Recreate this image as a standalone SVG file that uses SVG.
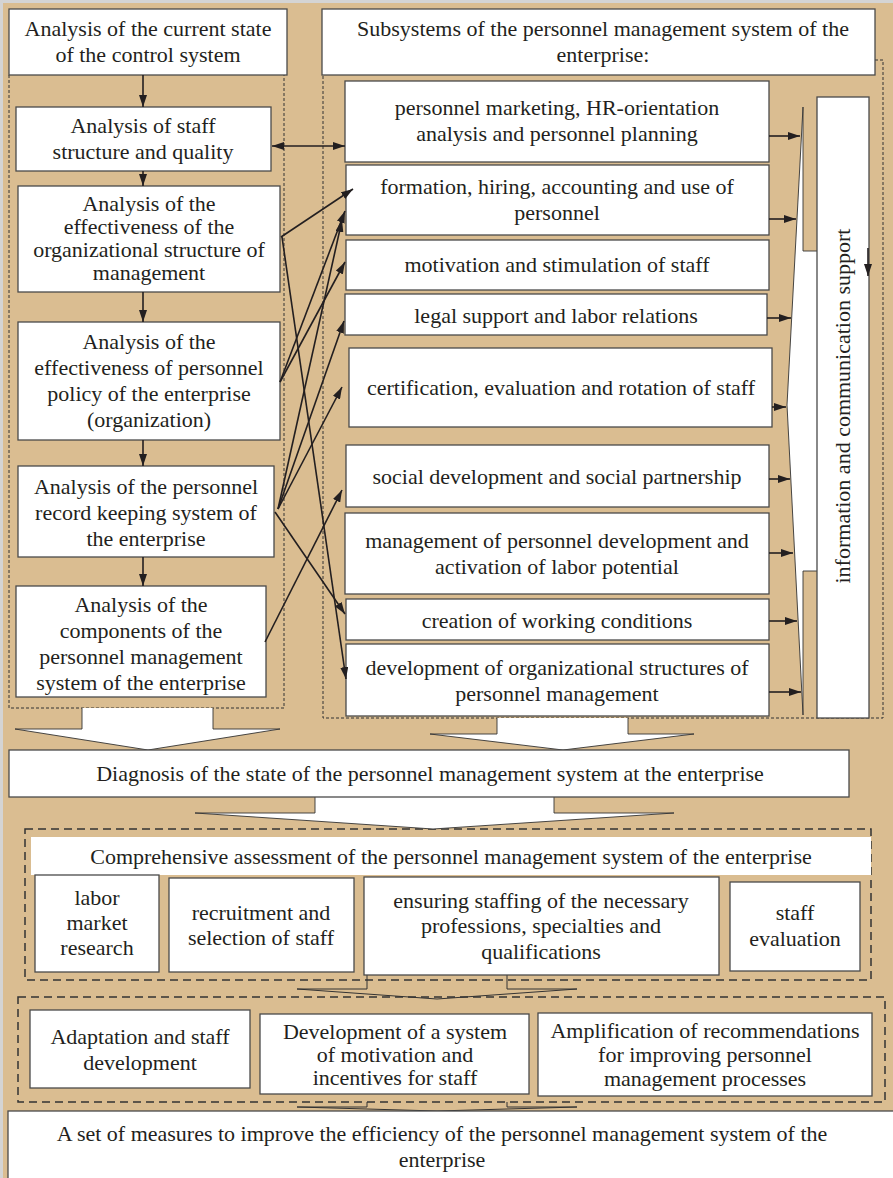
<svg xmlns="http://www.w3.org/2000/svg" width="893" height="1178" viewBox="0 0 893 1178">
<defs>
<marker id="ah" viewBox="0 0 12 8" refX="12" refY="4" markerWidth="12" markerHeight="8" markerUnits="userSpaceOnUse" orient="auto-start-reverse">
<path d="M0,0 L12,4 L0,8 Z" fill="#231f20"/>
</marker>
<style>
.bx{fill:#fff;stroke:#4a4a4a;stroke-width:1.3}
.t{font-family:"Liberation Serif","Times New Roman",serif;font-size:22px;fill:#231f20;text-anchor:middle}
.c{stroke:#231f20;stroke-width:1.6;fill:none;marker-end:url(#ah)}
.d1{fill:none;stroke:#333;stroke-width:1;stroke-dasharray:3,2}
.d2{fill:none;stroke:#333;stroke-width:1.5;stroke-dasharray:8,5}
.ba{fill:#fff;stroke:#333;stroke-width:0.9}
.sa{fill:none;stroke:#333;stroke-width:1}
</style>
</defs>
<rect x="0" y="0" width="893" height="1178" fill="#d4d4d4"/>
<rect x="3" y="3" width="890" height="1175" fill="#dabd91"/>

<g id="containers">
<path class="d1" d="M9,75 V708 H284 V75"/>
<path class="d1" d="M875,60 H883 V718 H323 V75"/>
<path class="d2" d="M25,829 H871 V980 H25 Z"/>
<path class="d2" d="M18,997 H885 V1102 H18 Z"/>
</g>

<g id="block-arrows">
<path class="ba" d="M82,708 V729 H15 L148,750 L280,729 H213 V708"/>
<path class="ba" d="M497,718 V734 H430 L563,750 L694,734 H628 V718"/>
<path class="ba" d="M315,797 V813 H195 L433,829 L674,813 H554 V797"/>
<path class="sa" d="M367,975 V989 H297 L437,999 L577,989 H507 V975"/>
<path class="sa" d="M367,1102 V1107 H297 L437,1111 L577,1107 H507 V1102"/>
</g>

<g id="n-current">
<rect class="bx" x="9" y="9" width="278" height="66"/>
<text class="t" x="148" y="36">Analysis of the current state</text>
<text class="t" x="148" y="62">of the control system</text>
</g>
<g id="n-staff">
<rect class="bx" x="16" y="107" width="255" height="64"/>
<text class="t" x="143" y="133">Analysis of staff</text>
<text class="t" x="143" y="159">structure and quality</text>
</g>
<g id="n-orgstruct">
<rect class="bx" x="18" y="186" width="262" height="106"/>
<text class="t" x="149" y="211">Analysis of the</text>
<text class="t" x="149" y="234">effectiveness of the</text>
<text class="t" x="149" y="257">organizational structure of</text>
<text class="t" x="149" y="280">management</text>
</g>
<g id="n-policy">
<rect class="bx" x="18" y="322" width="262" height="118"/>
<text class="t" x="149" y="349">Analysis of the</text>
<text class="t" x="149" y="375">effectiveness of personnel</text>
<text class="t" x="149" y="401">policy of the enterprise</text>
<text class="t" x="149" y="427">(organization)</text>
</g>
<g id="n-record">
<rect class="bx" x="18" y="466" width="256" height="91"/>
<text class="t" x="146" y="494">Analysis of the personnel</text>
<text class="t" x="146" y="520">record keeping system of</text>
<text class="t" x="146" y="546">the enterprise</text>
</g>
<g id="n-components">
<rect class="bx" x="16" y="586" width="250" height="111"/>
<text class="t" x="141" y="612">Analysis of the</text>
<text class="t" x="141" y="638">components of the</text>
<text class="t" x="141" y="664">personnel management</text>
<text class="t" x="141" y="690">system of the enterprise</text>
</g>

<g id="n-subsystems">
<rect class="bx" x="322" y="9" width="553" height="66"/>
<text class="t" x="603" y="36">Subsystems of the personnel management system of the</text>
<text class="t" x="603" y="62">enterprise:</text>
</g>
<g id="n-marketing">
<rect class="bx" x="345" y="81" width="424" height="81"/>
<text class="t" x="557" y="115">personnel marketing, HR-orientation</text>
<text class="t" x="557" y="141">analysis and personnel planning</text>
</g>
<g id="n-formation">
<rect class="bx" x="346" y="165" width="423" height="70"/>
<text class="t" x="557" y="194">formation, hiring, accounting and use of</text>
<text class="t" x="557" y="220">personnel</text>
</g>
<g id="n-motivation">
<rect class="bx" x="346" y="240" width="423" height="50"/>
<text class="t" x="557" y="272">motivation and stimulation of staff</text>
</g>
<g id="n-legal">
<rect class="bx" x="345" y="294" width="422" height="41"/>
<text class="t" x="556" y="323">legal support and labor relations</text>
</g>
<g id="n-certification">
<rect class="bx" x="349" y="348" width="423" height="79"/>
<text class="t" x="561" y="395">certification, evaluation and rotation of staff</text>
</g>
<g id="n-social">
<rect class="bx" x="346" y="445" width="423" height="62"/>
<text class="t" x="557" y="484">social development and social partnership</text>
</g>
<g id="n-development">
<rect class="bx" x="345" y="513" width="424" height="81"/>
<text class="t" x="557" y="548">management of personnel development and</text>
<text class="t" x="557" y="574">activation of labor potential</text>
</g>
<g id="n-conditions">
<rect class="bx" x="346" y="599" width="423" height="41"/>
<text class="t" x="557" y="628">creation of working conditions</text>
</g>
<g id="n-orgdev">
<rect class="bx" x="346" y="644" width="423" height="72"/>
<text class="t" x="557" y="675">development of organizational structures of</text>
<text class="t" x="557" y="701">personnel management</text>
</g>

<g id="n-collector">
<path fill="#fff" stroke="#333" stroke-width="0.9" d="M803,107 L803,251 L819,251 L819,571 L803,571 L803,715 L787,405 Z"/>
</g>
<g id="n-info">
<rect class="bx" x="817" y="97" width="52" height="621"/>
<text class="t" transform="translate(850,406) rotate(-90)" x="0" y="0">information and communication support</text>
</g>

<g id="n-diagnosis">
<rect class="bx" x="9" y="750" width="840" height="47"/>
<text class="t" x="430" y="781">Diagnosis of the state of the personnel management system at the enterprise</text>
</g>

<g id="n-comprehensive">
<rect x="31" y="837" width="840" height="38" fill="#fff"/>
<text class="t" x="451" y="864">Comprehensive assessment of the personnel management system of the enterprise</text>
</g>
<g id="n-labor">
<rect class="bx" x="35" y="875" width="124" height="97"/>
<text class="t" x="97" y="905">labor</text>
<text class="t" x="97" y="930">market</text>
<text class="t" x="97" y="955">research</text>
</g>
<g id="n-recruitment">
<rect class="bx" x="169" y="878" width="185" height="94"/>
<text class="t" x="261" y="920">recruitment and</text>
<text class="t" x="261" y="945">selection of staff</text>
</g>
<g id="n-ensuring">
<rect class="bx" x="364" y="877" width="355" height="98"/>
<text class="t" x="541" y="908">ensuring staffing of the necessary</text>
<text class="t" x="541" y="933">professions, specialties and</text>
<text class="t" x="541" y="959">qualifications</text>
</g>
<g id="n-evaluation">
<rect class="bx" x="730" y="882" width="130" height="89"/>
<text class="t" x="795" y="920">staff</text>
<text class="t" x="795" y="946">evaluation</text>
</g>

<g id="n-adaptation">
<rect class="bx" x="30" y="1010" width="220" height="78"/>
<text class="t" x="140" y="1044">Adaptation and staff</text>
<text class="t" x="140" y="1070">development</text>
</g>
<g id="n-motsystem">
<rect class="bx" x="260" y="1014" width="269" height="80"/>
<text class="t" x="395" y="1039">Development of a system</text>
<text class="t" x="395" y="1062">of motivation and</text>
<text class="t" x="395" y="1085">incentives for staff</text>
</g>
<g id="n-amplification">
<rect class="bx" x="538" y="1013" width="334" height="83"/>
<text class="t" x="705" y="1038">Amplification of recommendations</text>
<text class="t" x="705" y="1062">for improving personnel</text>
<text class="t" x="705" y="1086">management processes</text>
</g>

<g id="n-measures">
<rect class="bx" x="8" y="1111" width="890" height="70"/>
<text class="t" x="442" y="1141">A set of measures to improve the efficiency of the personnel management system of the</text>
<text class="t" x="442" y="1167">enterprise</text>
</g>

<g id="connectors">
<line class="c" x1="143" y1="75" x2="143" y2="107"/>
<line class="c" x1="143" y1="171" x2="143" y2="186"/>
<line class="c" x1="143" y1="292" x2="143" y2="322"/>
<line class="c" x1="143" y1="440" x2="143" y2="466"/>
<line class="c" x1="143" y1="557" x2="143" y2="586"/>
<line class="c" x1="272" y1="146" x2="345" y2="146" style="marker-start:url(#ah)"/>
<line class="c" x1="281" y1="237" x2="353" y2="189"/>
<line class="c" x1="282" y1="237" x2="346" y2="679"/>
<line class="c" x1="280" y1="382" x2="345" y2="211"/>
<line class="c" x1="280" y1="382" x2="345" y2="262"/>
<line class="c" x1="278" y1="509" x2="342" y2="220"/>
<line class="c" x1="278" y1="509" x2="344" y2="321"/>
<line class="c" x1="278" y1="509" x2="342" y2="387"/>
<line class="c" x1="275" y1="512" x2="345" y2="614"/>
<line class="c" x1="265" y1="642" x2="342" y2="490"/>
<line class="c" x1="769" y1="136" x2="800" y2="136"/>
<line class="c" x1="769" y1="219" x2="796" y2="219"/>
<line class="c" x1="767" y1="318" x2="791" y2="318"/>
<line class="c" x1="772" y1="407" x2="786" y2="407"/>
<line class="c" x1="769" y1="479" x2="790" y2="479"/>
<line class="c" x1="769" y1="553" x2="793" y2="553"/>
<line class="c" x1="769" y1="621" x2="797" y2="621"/>
<line class="c" x1="769" y1="692" x2="801" y2="692"/>
<line class="c" x1="868" y1="248" x2="868" y2="276"/>
</g>
</svg>
